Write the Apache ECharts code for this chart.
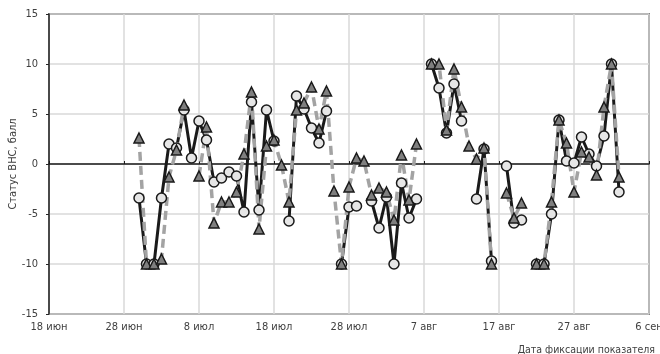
<!DOCTYPE html>
<html>
<head>
<meta charset="utf-8">
<script src="https://cdn.jsdelivr.net/npm/echarts@6/dist/echarts.min.js"></script>
<style>
  html, body { margin: 0; padding: 0; background: #fff; }
  #chart { width: 660px; height: 354px; }
</style>
</head>
<body>
<div id="chart"></div>
<script>
// days counted from 18 июн
const tickLabels = ["18 июн", "28 июн", "8 июл", "18 июл", "28 июл", "7 авг", "17 авг", "27 авг", "6 сен"];
const days = [];
for (let d = 12; d <= 76; d++) days.push(d);

const circleValues = [
  -3.4, -10, -10, -3.4, 2.0, 1.6, 5.4, 0.6, 4.3, 2.4,
  -1.8, -1.4, -0.8, -1.2, -4.8, 6.2, -4.6, 5.4, 2.3, null,
  -5.7, 6.8, 5.5, 3.6, 2.1, 5.3, null, -10, -4.3, -4.2,
  null, -3.7, -6.4, -3.3, -10, -1.9, -5.4, -3.5, null, 10,
  7.6, 3.1, 8.0, 4.3, null, -3.5, 1.5, -9.7, null, -0.2,
  -5.9, -5.6, null, -10, -10, -5.0, 4.4, 0.3, 0.1, 2.7,
  1.0, -0.2, 2.8, 10, -2.8
];
const triangleValues = [
  2.6, -10, -10, -9.5, -1.3, 1.4, 5.9, null, -1.2, 3.7,
  -5.9, -3.8, -3.8, -2.8, 1.0, 7.2, -6.5, 1.8, 2.4, -0.1,
  -3.8, 5.4, 6.1, 7.7, 3.5, 7.3, -2.7, -10, -2.3, 0.6,
  0.3, -3.1, -2.4, -2.8, -5.6, 0.9, -3.6, 2.0, null, 10,
  10, 3.4, 9.5, 5.7, 1.8, 0.5, 1.6, -10, null, -2.9,
  -5.4, -3.9, null, -10, -10, -3.8, 4.4, 2.1, -2.8, 1.2,
  0.7, -1.1, 5.7, 10, -1.3
];

const font = "'Liberation Sans Narrow', 'DejaVu Sans Condensed', 'Open Sans', sans-serif";
const textColor = "#404040";

const toPairs = (vals) => days.map((d, i) => [d, vals[i]]);

const chart = echarts.init(document.getElementById("chart"));
chart.setOption({
  animation: false,
  grid: {
    left: 49, right: 11, top: 14, bottom: 40,
    outerBoundsMode: "none",
    containLabel: false,
    show: true, borderColor: "#262626", borderWidth: 1.5
  },
  xAxis: [
    {
      type: "value", min: 0, max: 80, interval: 10,
      axisLine: { show: false, onZero: false },
      axisTick: { show: false },
      axisLabel: {
        formatter: (v) => tickLabels[Math.round(v / 10)],
        color: textColor, fontFamily: font, fontSize: 11, margin: 8
      },
      splitLine: { show: true, lineStyle: { color: "#d9d9d9", width: 1.5 } },
      name: "Дата фиксации показателя",
      nameLocation: "end",
      nameGap: 0,
      nameMoveOverlap: false,
      nameTextStyle: {
        color: textColor, fontFamily: font, fontSize: 10.5,
        align: "right", verticalAlign: "top", padding: [31, -6, 0, 0]
      }
    },
    {
      type: "value", min: 0, max: 80, interval: 10,
      position: "bottom",
      axisLine: { show: true, onZero: true, lineStyle: { color: "#1a1a1a", width: 1.5 } },
      axisTick: { show: true, inside: true, length: 3, lineStyle: { color: "#1a1a1a" } },
      axisLabel: { show: false },
      splitLine: { show: false }
    }
  ],
  yAxis: {
    type: "value", min: -15, max: 15, interval: 5,
    axisLine: { show: true, onZero: false, lineStyle: { color: "#262626", width: 1.5 } },
    axisTick: { show: true, length: 3, lineStyle: { color: "#262626" } },
    axisLabel: { color: textColor, fontFamily: font, fontSize: 11, margin: 11 },
    splitLine: { show: true, lineStyle: { color: "#d9d9d9", width: 1.5 } },
    name: "Статус ВНС, балл",
    nameLocation: "middle",
    nameGap: 30,
    nameMoveOverlap: false,
    nameTextStyle: { color: textColor, fontFamily: font, fontSize: 11 }
  },
  series: [
    {
      type: "line",
      xAxisIndex: 0,
      data: toPairs(circleValues),
      symbol: "circle",
      symbolSize: 10,
      showAllSymbol: true,
      lineStyle: { color: "#1a1a1a", width: 3 },
      itemStyle: { color: "#e6e6e6", borderColor: "#1a1a1a", borderWidth: 1.5 }
    },
    {
      type: "line",
      xAxisIndex: 0,
      data: toPairs(triangleValues),
      symbol: "triangle",
      symbolSize: 10,
      showAllSymbol: true,
      lineStyle: { color: "#a3a3a3", width: 3.5, type: [9, 5] },
      itemStyle: { color: "#7f7f7f", borderColor: "#1a1a1a", borderWidth: 1.5 }
    }
  ]
});
</script>
</body>
</html>
